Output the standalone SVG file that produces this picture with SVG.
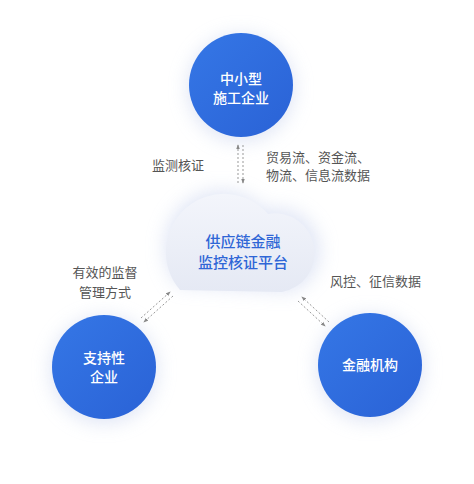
<svg xmlns="http://www.w3.org/2000/svg" width="474" height="484" viewBox="0 0 474 484">
<defs>
<linearGradient id="blue" x1="0" y1="0" x2="1" y2="1">
<stop offset="0" stop-color="#3577e6"/>
<stop offset="1" stop-color="#2a62d6"/>
</linearGradient>
<linearGradient id="cloudg" x1="0" y1="0" x2="0" y2="1">
<stop offset="0" stop-color="#f3f5fb"/>
<stop offset="1" stop-color="#e5e9f4"/>
</linearGradient>
<filter id="glow" x="-50%" y="-50%" width="200%" height="200%">
<feGaussianBlur stdDeviation="9"/>
</filter>
<marker id="ah" viewBox="0 0 6 6" refX="5" refY="3" markerWidth="5" markerHeight="5" orient="auto">
<path d="M0,0.8 L6,3 L0,5.2 Z" fill="#888"/>
</marker>
</defs>
<style>
.node circle.main{fill:url(#blue)}
.halo{fill:#c9d3ee;opacity:0.55}
.nt{font-family:"Noto Sans CJK SC","Noto Sans",sans-serif;font-size:14px;fill:#fff;text-anchor:middle;font-weight:500}
.ct{font-family:"Noto Sans CJK SC","Noto Sans",sans-serif;font-size:15px;fill:#2f66d6;text-anchor:middle;font-weight:500}
.lb{font-family:"Noto Sans CJK SC","Noto Sans",sans-serif;font-size:13px;fill:#555}
.cn line{stroke:#999;stroke-width:1;stroke-dasharray:2 2;fill:none;marker-end:url(#ah)}
</style>
<rect width="474" height="484" fill="#fff"/>

<g id="platform">
<path class="halo" d="M178,285 A50,50 0 1 1 265,210 A42,42 0 1 1 290,292 Z" filter="url(#glow)" opacity="0.4"/>
<path d="M180,290 A52,52 0 1 1 268,214 A39,39 0 1 1 282,292 Z" fill="url(#cloudg)"/>
<text class="ct" x="243" y="247">供应链金融</text>
<text class="ct" x="243" y="268">监控核证平台</text>
</g>

<g id="top" class="node">
<circle class="halo" cx="241" cy="88" r="54" filter="url(#glow)"/>
<circle class="main" cx="241" cy="85" r="52"/>
<text class="nt" x="241" y="84">中小型</text>
<text class="nt" x="241" y="103">施工企业</text>
</g>

<g id="left" class="node">
<circle class="halo" cx="104" cy="370" r="54" filter="url(#glow)"/>
<circle class="main" cx="104" cy="367" r="52"/>
<text class="nt" x="104" y="363">支持性</text>
<text class="nt" x="104" y="382">企业</text>
</g>

<g id="right" class="node">
<circle class="halo" cx="370" cy="368" r="54" filter="url(#glow)"/>
<circle class="main" cx="370" cy="365" r="52"/>
<text class="nt" x="370" y="370">金融机构</text>
</g>

<g id="connectors" class="cn">
<line x1="238" y1="183" x2="238" y2="145"/>
<line x1="243" y1="145" x2="243" y2="183"/>
<line x1="141" y1="318" x2="170" y2="292"/>
<line x1="173" y1="296" x2="144" y2="322"/>
<line x1="298" y1="301" x2="325" y2="326"/>
<line x1="329" y1="322" x2="302" y2="297"/>
</g>

<g id="labels">
<text class="lb" x="152" y="170">监测核证</text>
<text class="lb" x="266" y="162">贸易流、资金流、</text>
<text class="lb" x="266" y="180">物流、信息流数据</text>
<text class="lb" x="105" y="277" text-anchor="middle">有效的监督</text>
<text class="lb" x="105" y="297" text-anchor="middle">管理方式</text>
<text class="lb" x="330" y="286">风控、征信数据</text>
</g>
</svg>
